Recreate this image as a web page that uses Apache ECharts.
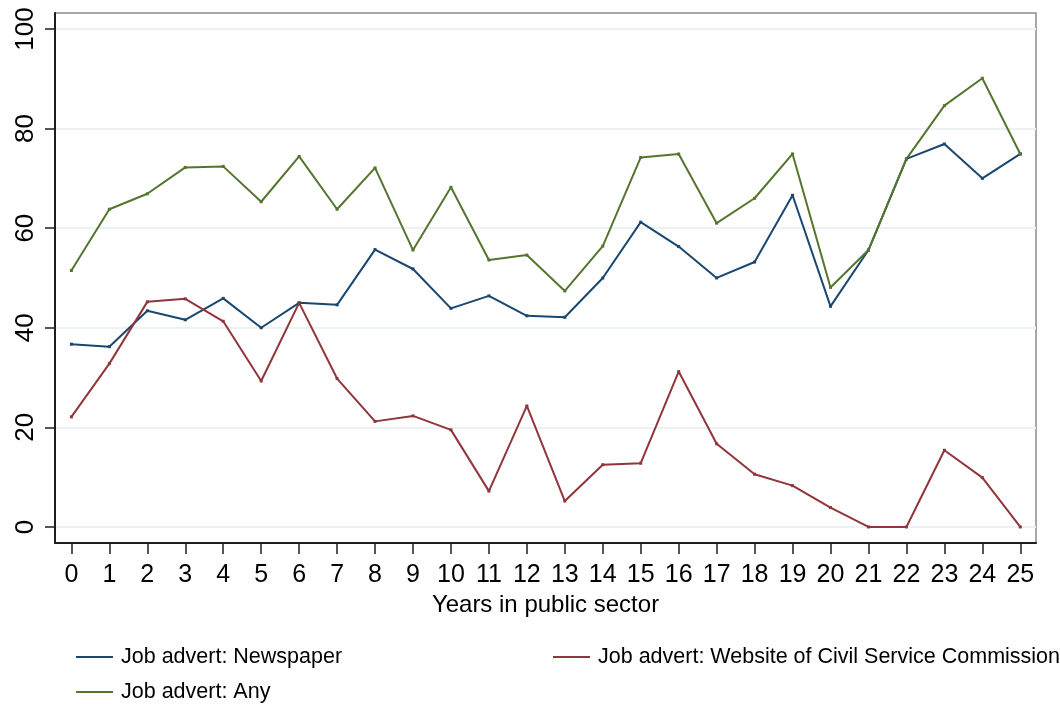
<!DOCTYPE html>
<html>
<head>
<meta charset="utf-8">
<script src="https://cdn.jsdelivr.net/npm/echarts@6/dist/echarts.min.js"></script>
<style>
html,body{margin:0;padding:0;background:#fff;}
#chart{width:1060px;height:704px;}
</style>
</head>
<body>
<div id="chart"></div>
<script>
const years = [0,1,2,3,4,5,6,7,8,9,10,11,12,13,14,15,16,17,18,19,20,21,22,23,24,25];
const newspaper = [36.7,36.2,43.4,41.6,45.9,40.0,45.0,44.6,55.7,51.8,43.9,46.4,42.4,42.1,50.0,61.2,56.3,50.0,53.2,66.6,44.3,55.6,73.9,76.9,70.0,74.9];
const website = [22.1,32.8,45.2,45.8,41.3,29.3,45.0,29.8,21.2,22.3,19.5,7.2,24.3,5.2,12.5,12.8,31.2,16.7,10.6,8.3,3.9,0,0,15.4,9.9,0];
const anyAdvert = [51.5,63.8,66.9,72.2,72.4,65.3,74.4,63.8,72.1,55.6,68.2,53.6,54.6,47.4,56.4,74.2,74.9,61.0,66.0,74.9,48.1,55.6,73.9,84.6,90.1,74.9];
const yTicks = [0,20,40,60,80,100];
const seriesNames = ['Job advert: Newspaper','Job advert: Website of Civil Service Commission','Job advert: Any'];
const xTitle = 'Years in public sector';

const colors = ['#1a476f','#90353b','#55752f'];
const font = "'Liberation Sans', Arial, Helvetica, sans-serif";

function pairs(vals){ return years.map((x,i)=>[x, vals[i]]); }

const chart = echarts.init(document.getElementById('chart'), null, {renderer:'canvas'});

function mkSeries(name, vals, color){
  return {
    name: name, type:'line', data: pairs(vals),
    symbol:'rect', symbolSize:3, showSymbol:true,
    lineStyle:{color:color, width:2},
    itemStyle:{color:color},
    emphasis:{disabled:true}, animation:false, z:3
  };
}

function mkLegend(name, left, top){
  return {
    data:[name], left:left, top:top, icon:'rect', itemWidth:37, itemHeight:2,
    itemGap:0, padding:0, selectedMode:false,
    textStyle:{fontFamily:font, fontSize:21.5, color:'#000', padding:[0,0,0,3]}
  };
}

const option = {
  backgroundColor:'#fff',
  animation:false,
  color: colors,
  grid:{left:55, right:24, top:13, bottom:161, show:true, borderColor:'#8c8c8c', borderWidth:1.5, backgroundColor:'#fff'},
  legend:[
    mkLegend(seriesNames[0], 76, 646),
    mkLegend(seriesNames[1], 553, 646),
    mkLegend(seriesNames[2], 76, 681)
  ],
  xAxis:{
    type:'value', min:-0.432, max:25.414,
    name:xTitle, nameLocation:'middle', nameGap:46,
    nameTextStyle:{fontFamily:font, fontSize:24, color:'#000'},
    axisLine:{show:true, onZero:false, lineStyle:{color:'#1e1e1e', width:2}},
    axisTick:{show:true, length:11, inside:false, lineStyle:{color:'#1e1e1e', width:1.5}, customValues: years},
    axisLabel:{fontFamily:font, fontSize:25, color:'#000', margin:20, customValues: years, formatter: v=>String(v)},
    splitLine:{show:false}
  },
  yAxis:{
    type:'value', min:-3.22, max:103.2,
    axisLine:{show:true, onZero:false, lineStyle:{color:'#1e1e1e', width:2}},
    axisTick:{show:true, length:10, lineStyle:{color:'#1e1e1e', width:1.5}, customValues: yTicks},
    axisLabel:{fontFamily:"'Liberation Sans Narrow', 'Liberation Sans', Arial, sans-serif", fontSize:26, color:'#000', rotate:90, margin:16, customValues: yTicks, formatter: v=>String(v)},
    splitLine:{show:true, lineStyle:{color:'#eaf2f3', width:2}}
  },
  series:[
    mkSeries(seriesNames[0], newspaper, colors[0]),
    mkSeries(seriesNames[1], website, colors[1]),
    mkSeries(seriesNames[2], anyAdvert, colors[2])
  ]
};
chart.setOption(option);
</script>
</body>
</html>
